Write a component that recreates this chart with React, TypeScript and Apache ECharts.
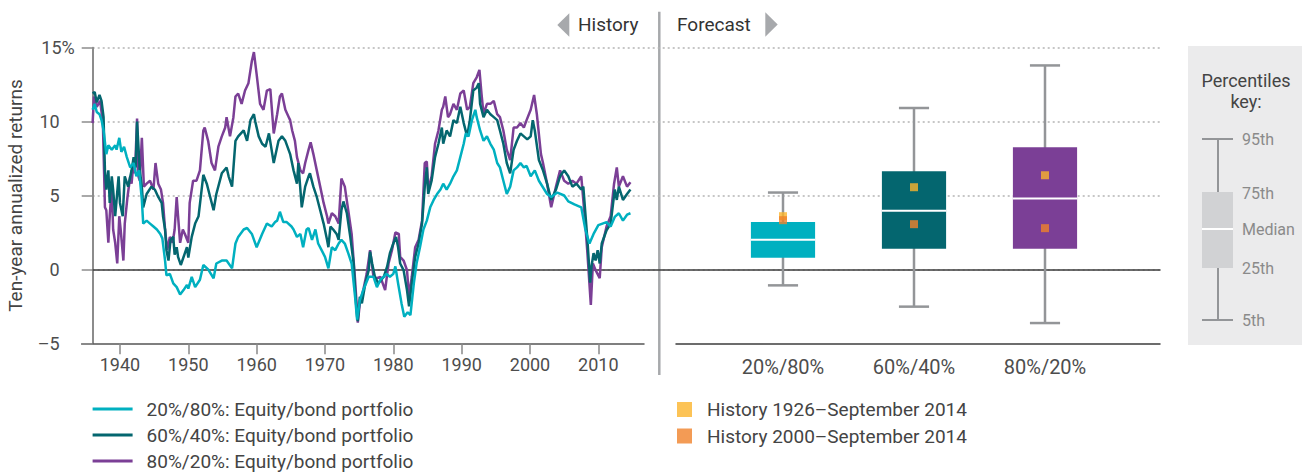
import React, { useEffect, useRef } from 'react';
import * as echarts from 'echarts';

// ---------- DATA ----------
const seriesNames = [
  '20%/80%: Equity/bond portfolio',
  '60%/40%: Equity/bond portfolio',
  '80%/20%: Equity/bond portfolio',
];
const yearTicks = [1940, 1950, 1960, 1970, 1980, 1990, 2000, 2010];

// Ten-year annualized returns [year, %]
const returns20_80: [number, number][] = [
  [1936.0, 10.8], [1936.3, 11.2], [1936.6, 10.65], [1937.0, 10.5], [1937.3, 10.1], [1937.6, 9.4],
  [1938.0, 7.8], [1938.3, 8.4], [1938.8, 8.1], [1939.3, 8.4], [1939.5, 8.1], [1939.9, 8.9],
  [1940.2, 7.95], [1940.6, 8.3], [1941.0, 7.6], [1941.5, 6.9], [1942.0, 7.2], [1942.4, 6.3],
  [1942.8, 6.7], [1943.2, 4.7], [1943.4, 3.1], [1943.9, 3.3], [1944.4, 3.1], [1944.9, 2.9],
  [1945.4, 2.7], [1945.9, 2.4], [1946.2, 2.1], [1946.6, 0.6], [1946.8, -0.4], [1947.3, -0.3],
  [1947.8, -0.95], [1948.3, -1.2], [1948.8, -1.7], [1949.3, -1.4], [1949.8, -1.05], [1950.0, -1.3],
  [1950.5, -0.5], [1951.0, -1.2], [1951.7, -0.7], [1952.2, 0.3], [1952.9, 0.0], [1953.7, -0.6],
  [1954.1, 0.4], [1954.9, 0.6], [1955.6, 0.6], [1956.4, 0.07], [1956.9, 1.75], [1957.3, 2.2],
  [1958.1, 2.7], [1958.6, 2.8], [1959.3, 2.4], [1960.0, 1.5], [1960.8, 2.4], [1961.5, 3.1],
  [1962.2, 2.9], [1962.7, 3.2], [1963.0, 3.3], [1963.4, 3.9], [1963.9, 3.2], [1964.4, 3.2],
  [1965.1, 2.9], [1965.4, 2.7], [1965.9, 2.2], [1966.4, 2.4], [1966.8, 1.5], [1967.3, 2.7],
  [1967.6, 2.8], [1968.1, 2.0], [1968.6, 2.7], [1969.0, 1.75], [1969.5, 1.3], [1970.0, 0.85],
  [1970.5, 0.07], [1971.0, 1.5], [1971.5, 1.3], [1972.0, 1.75], [1972.4, 2.0], [1972.9, 1.75],
  [1973.4, 1.1], [1973.9, 0.4], [1974.4, -1.85], [1974.7, -3.4], [1975.1, -2.1], [1975.6, -1.4],
  [1976.4, -0.5], [1977.1, -0.5], [1977.6, -1.2], [1978.1, -0.7], [1978.6, -0.5], [1979.0, -0.3],
  [1979.5, -0.5], [1980.0, -0.3], [1980.3, 0.2], [1980.7, -0.95], [1981.2, -2.3], [1981.6, -3.2],
  [1982.1, -2.9], [1982.5, -3.1], [1983.0, -0.95], [1983.4, 0.4], [1983.9, 1.5], [1984.4, 2.7],
  [1984.9, 3.3], [1985.4, 4.2], [1985.9, 4.7], [1986.4, 5.1], [1986.9, 5.4], [1987.3, 5.8],
  [1987.8, 5.4], [1988.3, 5.8], [1988.8, 6.3], [1989.3, 6.7], [1989.8, 7.6], [1990.3, 8.5],
  [1990.6, 9.2], [1991.0, 9.0], [1991.5, 10.1], [1992.0, 10.8], [1992.2, 10.3], [1992.7, 9.4],
  [1993.2, 8.7], [1993.7, 9.0], [1994.2, 8.5], [1994.7, 8.1], [1995.2, 7.2], [1995.6, 6.9],
  [1996.1, 6.0], [1996.6, 5.1], [1997.1, 5.6], [1997.6, 6.7], [1998.1, 6.9], [1998.6, 7.2],
  [1999.1, 6.9], [1999.5, 7.0], [2000.1, 6.3], [2000.7, 6.7], [2001.3, 6.0], [2002.5, 5.1],
  [2003.1, 4.9], [2004.0, 5.2], [2005.0, 5.0], [2005.6, 4.6], [2006.5, 4.4], [2007.5, 4.2],
  [2008.1, 2.7], [2008.7, 1.75], [2009.3, 2.4], [2010.0, 3.0], [2011.2, 3.2], [2011.8, 2.9],
  [2012.4, 3.55], [2013.0, 3.8], [2013.6, 3.3], [2014.2, 3.7], [2014.7, 3.8],
];

const returns60_40: [number, number][] = [
  [1936.0, 11.9], [1936.3, 12.0], [1936.6, 11.3], [1937.0, 11.8], [1937.3, 11.4], [1937.6, 10.3],
  [1937.8, 6.7], [1938.0, 5.4], [1938.3, 6.7], [1938.5, 4.5], [1938.8, 6.3], [1939.0, 5.4],
  [1939.3, 3.6], [1939.8, 6.3], [1940.0, 4.5], [1940.4, 3.6], [1940.7, 6.3], [1941.2, 5.6],
  [1941.7, 6.7], [1942.0, 7.6], [1942.3, 6.9], [1942.5, 10.0], [1942.9, 6.7], [1943.2, 5.6],
  [1943.4, 4.2], [1943.9, 5.1], [1944.6, 5.6], [1945.1, 5.4], [1945.6, 4.9], [1946.1, 4.5],
  [1946.3, 3.6], [1946.6, 2.7], [1946.8, 1.3], [1947.1, 0.6], [1947.4, 2.0], [1947.8, 2.2],
  [1948.0, 1.0], [1948.3, 1.5], [1948.5, 0.85], [1948.9, 0.3], [1949.5, 1.1], [1949.8, 1.5],
  [1950.0, 0.8], [1950.5, 2.2], [1951.0, 3.1], [1951.5, 3.6], [1952.2, 6.4], [1952.7, 5.8],
  [1953.2, 4.9], [1953.7, 4.0], [1954.1, 5.1], [1954.9, 6.5], [1955.6, 6.9], [1955.9, 6.3],
  [1956.4, 5.6], [1956.9, 8.7], [1957.3, 9.0], [1958.1, 9.4], [1958.6, 8.7], [1959.1, 10.1],
  [1959.6, 10.5], [1959.8, 10.0], [1960.3, 9.0], [1960.8, 8.5], [1961.3, 8.3], [1961.8, 9.2],
  [1962.5, 7.2], [1963.2, 8.7], [1963.7, 9.0], [1964.2, 8.7], [1964.9, 7.8], [1965.4, 6.7],
  [1965.9, 5.8], [1966.1, 7.2], [1966.6, 4.2], [1967.1, 5.6], [1967.6, 6.3], [1967.8, 6.5],
  [1968.3, 5.6], [1968.8, 4.9], [1969.3, 4.0], [1969.8, 3.1], [1970.3, 2.0], [1970.5, 1.5],
  [1970.8, 2.9], [1971.2, 2.7], [1971.7, 2.4], [1972.0, 2.0], [1972.4, 4.0], [1972.7, 4.6],
  [1973.2, 3.8], [1973.7, 2.2], [1974.2, 0.4], [1974.4, -1.4], [1974.7, -3.2], [1974.8, -3.5],
  [1975.1, -1.85], [1975.4, -2.3], [1975.9, -0.95], [1976.4, -0.05], [1976.6, 1.2], [1976.9, 0.4],
  [1977.3, -0.5], [1977.8, -0.95], [1978.6, -0.5], [1979.1, 0.2], [1979.5, 1.1], [1980.0, 1.75],
  [1980.4, 2.2], [1980.7, 1.5], [1981.0, 0.4], [1981.5, -0.05], [1982.0, -1.4], [1982.3, -2.5],
  [1982.7, -0.95], [1983.2, 0.85], [1983.7, 1.75], [1984.2, 3.1], [1984.6, 5.6], [1984.9, 6.9],
  [1985.1, 5.1], [1985.6, 6.0], [1986.1, 7.6], [1986.6, 8.5], [1987.1, 9.6], [1987.3, 8.5],
  [1987.8, 9.4], [1988.3, 9.0], [1988.8, 10.1], [1989.3, 9.9], [1989.8, 11.0], [1990.3, 9.9],
  [1990.8, 9.0], [1991.2, 10.1], [1991.7, 12.1], [1992.2, 12.3], [1992.5, 12.6], [1992.7, 11.2],
  [1993.2, 10.3], [1993.7, 10.8], [1994.2, 10.5], [1994.7, 10.3], [1995.2, 10.1], [1995.6, 9.4],
  [1996.1, 8.5], [1996.6, 7.2], [1997.1, 6.5], [1997.6, 8.1], [1998.1, 8.7], [1998.6, 9.2],
  [1999.1, 9.0], [1999.6, 8.8], [2000.1, 9.0], [2000.4, 10.1], [2000.7, 9.4], [2001.3, 7.4],
  [2001.9, 6.7], [2002.5, 5.8], [2003.1, 4.7], [2003.8, 5.4], [2004.4, 6.3], [2005.0, 6.7],
  [2005.6, 6.3], [2006.2, 5.6], [2006.8, 5.8], [2007.5, 5.4], [2007.8, 5.6], [2008.1, 3.8],
  [2008.4, 2.0], [2008.8, -0.9], [2009.0, 0.2], [2009.3, 1.1], [2009.6, 0.6], [2009.9, 1.3],
  [2010.2, 0.4], [2010.5, 1.75], [2011.2, 2.65], [2011.8, 3.1], [2012.4, 5.4], [2012.7, 4.7],
  [2013.0, 5.6], [2013.6, 4.7], [2014.2, 5.1], [2014.7, 5.4],
];

const returns80_20: [number, number][] = [
  [1936.0, 9.9], [1936.2, 11.7], [1936.6, 11.0], [1937.1, 11.4], [1937.5, 9.9], [1937.8, 4.2],
  [1938.0, 4.0], [1938.3, 1.8], [1938.5, 3.6], [1938.8, 5.6], [1939.0, 2.7], [1939.3, 1.8],
  [1939.6, 0.4], [1939.9, 3.6], [1940.1, 2.7], [1940.5, 0.6], [1940.7, 3.1], [1941.1, 4.9],
  [1941.5, 6.3], [1941.7, 5.8], [1942.0, 7.4], [1942.2, 6.5], [1942.5, 10.2], [1942.7, 6.3],
  [1942.9, 6.0], [1943.2, 8.9], [1943.5, 5.6], [1943.9, 5.8], [1944.4, 6.0], [1944.9, 5.4],
  [1945.2, 7.2], [1945.6, 5.8], [1946.0, 5.4], [1946.3, 4.5], [1946.6, 2.7], [1946.9, 1.3],
  [1947.3, 2.2], [1947.7, 1.8], [1948.0, 2.7], [1948.3, 4.9], [1948.5, 3.6], [1948.8, 1.8],
  [1949.2, 2.7], [1949.5, 2.4], [1950.0, 1.8], [1950.2, 4.5], [1950.7, 6.0], [1951.2, 6.0],
  [1951.7, 6.7], [1952.2, 9.4], [1952.4, 9.6], [1952.9, 8.7], [1953.4, 7.2], [1953.9, 6.7],
  [1954.4, 8.3], [1954.9, 9.0], [1955.4, 9.6], [1955.6, 10.3], [1956.1, 9.0], [1956.6, 10.3],
  [1956.9, 11.7], [1957.3, 11.9], [1957.8, 11.2], [1958.3, 12.1], [1958.8, 12.6], [1959.3, 14.1],
  [1959.6, 14.7], [1960.0, 13.2], [1960.5, 11.2], [1961.0, 10.8], [1961.5, 12.1], [1962.0, 12.2],
  [1962.5, 9.2], [1963.0, 10.5], [1963.4, 11.7], [1963.7, 11.9], [1964.2, 10.8], [1964.7, 10.3],
  [1964.9, 10.1], [1965.2, 9.4], [1965.6, 8.7], [1965.9, 7.6], [1966.4, 6.7], [1966.8, 6.5],
  [1967.1, 7.2], [1967.6, 8.1], [1967.9, 8.6], [1968.3, 7.8], [1968.8, 6.7], [1969.3, 5.6],
  [1969.8, 4.5], [1970.3, 3.6], [1970.5, 3.1], [1971.0, 3.8], [1971.5, 3.6], [1972.0, 3.1],
  [1972.4, 6.15], [1972.9, 5.6], [1973.4, 4.0], [1973.9, 2.4], [1974.4, -0.7], [1974.8, -3.6],
  [1975.1, -2.3], [1975.6, -1.4], [1976.1, -0.3], [1976.6, 1.3], [1977.1, -0.5], [1977.6, -0.6],
  [1978.1, -0.5], [1978.8, -1.4], [1979.3, 0.4], [1979.8, 1.3], [1980.3, 2.5], [1980.8, 2.4],
  [1981.0, 0.85], [1981.5, 0.6], [1982.0, -0.05], [1982.3, -1.85], [1982.7, -0.5], [1983.2, 1.5],
  [1983.7, 2.0], [1984.2, 3.3], [1984.6, 7.2], [1984.9, 7.3], [1985.1, 5.4], [1985.6, 6.3],
  [1986.1, 8.5], [1986.6, 9.4], [1987.1, 10.8], [1987.3, 11.0], [1987.6, 11.7], [1988.0, 10.3],
  [1988.3, 10.5], [1988.8, 11.2], [1989.3, 10.8], [1989.8, 11.9], [1990.3, 12.1], [1990.8, 10.8],
  [1991.2, 11.0], [1991.7, 12.6], [1992.2, 13.0], [1992.6, 13.5], [1992.9, 11.9], [1993.2, 10.5],
  [1993.7, 11.2], [1994.2, 11.2], [1994.7, 11.4], [1995.2, 10.5], [1995.6, 10.3], [1996.1, 9.4],
  [1996.6, 8.1], [1997.1, 7.4], [1997.6, 9.6], [1998.1, 9.6], [1998.6, 9.9], [1999.1, 9.6],
  [1999.5, 10.1], [2000.1, 10.8], [2000.6, 11.8], [2001.0, 10.5], [2001.6, 7.8], [2001.9, 7.2],
  [2002.5, 5.8], [2003.1, 4.2], [2003.8, 5.6], [2004.4, 6.7], [2005.0, 6.0], [2005.6, 5.8],
  [2006.2, 6.0], [2006.8, 5.8], [2007.5, 6.3], [2008.0, 3.6], [2008.4, 1.1], [2008.9, -2.4],
  [2009.2, 0.4], [2009.6, -0.05], [2010.2, -0.6], [2010.5, 1.5], [2011.2, 2.9], [2011.8, 3.6],
  [2012.3, 5.8], [2012.7, 6.9], [2013.0, 5.6], [2013.6, 6.3], [2014.2, 5.6], [2014.7, 5.9],
];

// Forecast distribution (percentiles)
const boxCategories = ['20%/80%', '60%/40%', '80%/20%'];
const pct5 = [-1.08, -2.52, -3.63];
const pct25 = [0.79, 1.39, 1.39];
const pctMedian = [2.0, 3.96, 4.8];
const pct75 = [3.2, 6.64, 8.26];
const pct95 = [5.2, 10.92, 13.8];
const history1926 = [3.6, 5.56, 6.37];
const history2000 = [3.33, 3.06, 2.79];
const historyNames = ['History 1926\u2013September 2014', 'History 2000\u2013September 2014'];
const keyLabels = ['95th', '75th', 'Median', '25th', '5th'];

// ---------- STYLE ----------
const C_CYAN = '#00b0c0';
const C_TEAL = '#04666f';
const C_PURPLE = '#7b3f96';
const BOX_COLORS = [C_CYAN, C_TEAL, C_PURPLE];
const C_WHISKER = '#939598';
const C_YELLOW = '#fbb42c';
const C_ORANGE = '#f0822a';
const FONT = 'Roboto, "Liberation Sans", Arial, sans-serif';

const GRID_TOP = 47.7;
const GRID_H = 295.6;

function buildOption(): any {
  const fmtY = (v: number) => {
    if (v === 15) return '{p|15%}';
    const s = v < 0 ? '\u2013' + Math.abs(v) : String(v);
    return '{n|' + s + '}';
  };
  const labelRich = {
    p: { fontSize: 18, color: '#4d4d4d', fontFamily: FONT },
    n: { fontSize: 18, color: '#4d4d4d', fontFamily: FONT, padding: [0, 15, 0, 0] },
  };

  return {
    animation: false,
    textStyle: { fontFamily: FONT },
    grid: [
      // 0: history lines
      { left: 81.7, right: 1302 - 644, top: GRID_TOP, height: GRID_H },
      // 1: forecast boxes
      { left: 717.5, right: 1302 - 1110.5, top: GRID_TOP, height: GRID_H },
      // 2: shared gridlines + zero line
      { left: 92.7, right: 1302 - 1160, top: GRID_TOP, height: GRID_H * 15 / 20 },
      // 3: forecast baseline
      { left: 676, right: 1302 - 1160, top: GRID_TOP, height: GRID_H },
    ],
    xAxis: [
      {
        gridIndex: 0, type: 'value', min: 1934.4, max: 2016.68,
        axisLine: { show: true, onZero: false, lineStyle: { color: '#555', width: 1.5 } },
        axisTick: { show: true, length: 11, customValues: yearTicks, lineStyle: { color: '#888', width: 1.5 } },
        axisLabel: { customValues: yearTicks, fontSize: 18, color: '#4d4d4d', margin: 12, formatter: (v: number) => String(v) },
        splitLine: { show: false },
      },
      {
        gridIndex: 1, type: 'category', data: boxCategories,
        axisLine: { show: false }, axisTick: { show: false },
        axisLabel: { fontSize: 20, color: '#4d4d4d', margin: 14 },
        splitLine: { show: false },
      },
      {
        gridIndex: 2, type: 'value', min: 0, max: 1,
        axisLine: { show: true, onZero: false, lineStyle: { color: '#3d3d3d', width: 1.5 } },
        axisTick: { show: false }, axisLabel: { show: false }, splitLine: { show: false },
      },
      {
        gridIndex: 3, type: 'value', min: 0, max: 1,
        axisLine: { show: true, onZero: false, lineStyle: { color: '#3d3d3d', width: 1.5 } },
        axisTick: { show: false }, axisLabel: { show: false }, splitLine: { show: false },
      },
    ],
    yAxis: [
      {
        gridIndex: 0, type: 'value', min: -5, max: 15, interval: 5, offset: -11,
        name: 'Ten-year annualized returns', nameLocation: 'middle', nameRotate: 90, nameGap: 68,
        nameTextStyle: { fontSize: 19, color: '#444' },
        axisLine: { show: true, lineStyle: { color: '#8c8c8c', width: 2 } },
        axisTick: { show: true, length: 11, lineStyle: { color: '#8c8c8c', width: 1.5 } },
        axisLabel: { formatter: fmtY, rich: labelRich, margin: 18 },
        splitLine: { show: false },
      },
      {
        gridIndex: 1, type: 'value', min: -5, max: 15, interval: 5, show: false,
        splitLine: { show: false },
      },
      {
        gridIndex: 2, type: 'value', min: 0, max: 15, interval: 5,
        axisLine: { show: false }, axisTick: { show: false }, axisLabel: { show: false },
        splitLine: { show: true, lineStyle: { color: '#b4b4b4', type: [2, 3], width: 1.5 } },
      },
      {
        gridIndex: 3, type: 'value', min: -5, max: 15, show: false, splitLine: { show: false },
      },
    ],
    legend: [
      {
        data: seriesNames, orient: 'vertical', left: 92.6, top: 399, padding: 0, icon: 'rect',
        itemWidth: 40, itemHeight: 3, itemGap: 6, selectedMode: false,
        textStyle: { fontSize: 19, color: '#444', lineHeight: 20, padding: [0, 0, 0, 9] },
      },
      {
        data: historyNames, orient: 'vertical', left: 677, top: 399.5, padding: 0, icon: 'rect',
        itemWidth: 15, itemHeight: 15, itemGap: 6.5, selectedMode: false,
        textStyle: { fontSize: 19, color: '#444', lineHeight: 20, padding: [0, 0, 0, 10] },
      },
    ],
    series: [
      {
        name: seriesNames[2], type: 'line', xAxisIndex: 0, yAxisIndex: 0, data: returns80_20,
        symbol: 'none', showSymbol: false, color: C_PURPLE,
        lineStyle: { color: C_PURPLE, width: 2.5 }, silent: true,
      },
      {
        name: seriesNames[1], type: 'line', xAxisIndex: 0, yAxisIndex: 0, data: returns60_40,
        symbol: 'none', showSymbol: false, color: C_TEAL,
        lineStyle: { color: C_TEAL, width: 2.5 }, silent: true,
      },
      {
        name: seriesNames[0], type: 'line', xAxisIndex: 0, yAxisIndex: 0, data: returns20_80,
        symbol: 'none', showSymbol: false, color: C_CYAN,
        lineStyle: { color: C_CYAN, width: 2.5 }, silent: true,
      },
      {
        name: 'Forecast', type: 'custom', xAxisIndex: 1, yAxisIndex: 1, silent: true,
        data: boxCategories.map((_, i) => [i, pct5[i], pct25[i], pctMedian[i], pct75[i], pct95[i]]),
        encode: { x: 0, y: [1, 2, 3, 4, 5] },
        renderItem: (params: any, api: any) => {
          const i = api.value(0);
          const lo = api.coord([i, api.value(1)]);
          const q1 = api.coord([i, api.value(2)]);
          const md = api.coord([i, api.value(3)]);
          const q3 = api.coord([i, api.value(4)]);
          const hi = api.coord([i, api.value(5)]);
          const band = api.size([1, 0])[0];
          const bw = band * 0.49;
          const cw = band * 0.23;
          const x = lo[0];
          const ws = { stroke: C_WHISKER, lineWidth: 2.5 };
          return {
            type: 'group',
            children: [
              { type: 'line', shape: { x1: x, y1: hi[1], x2: x, y2: lo[1] }, style: ws },
              { type: 'line', shape: { x1: x - cw / 2, y1: hi[1], x2: x + cw / 2, y2: hi[1] }, style: ws },
              { type: 'line', shape: { x1: x - cw / 2, y1: lo[1], x2: x + cw / 2, y2: lo[1] }, style: ws },
              { type: 'rect', shape: { x: x - bw / 2, y: q3[1], width: bw, height: q1[1] - q3[1] }, style: { fill: BOX_COLORS[i] } },
              { type: 'line', shape: { x1: x - bw / 2, y1: md[1], x2: x + bw / 2, y2: md[1] }, style: { stroke: '#ffffff', lineWidth: 2 } },
            ],
          };
        },
      },
      {
        name: historyNames[0], type: 'scatter', xAxisIndex: 1, yAxisIndex: 1, data: history1926,
        symbol: 'rect', symbolSize: 8, color: C_YELLOW, itemStyle: { color: C_YELLOW }, silent: true, z: 5,
      },
      {
        name: historyNames[1], type: 'scatter', xAxisIndex: 1, yAxisIndex: 1, data: history2000,
        symbol: 'rect', symbolSize: 8, color: C_ORANGE, itemStyle: { color: C_ORANGE }, silent: true, z: 6,
      },
    ],
    graphic: [
      // history / forecast header
      { type: 'polygon', shape: { points: [[569.3, 13.3], [569.3, 36.7], [557.3, 25]] }, style: { fill: '#a7a9ac' } },
      { type: 'text', x: 578, y: 24, style: { text: 'History', fontSize: 19, fontFamily: FONT, fill: '#333', align: 'left', verticalAlign: 'middle' } },
      { type: 'text', x: 677, y: 24, style: { text: 'Forecast', fontSize: 19, fontFamily: FONT, fill: '#333', align: 'left', verticalAlign: 'middle' } },
      { type: 'polygon', shape: { points: [[765.3, 12.3], [765.3, 36.7], [777.7, 24.5]] }, style: { fill: '#a7a9ac' } },
      { type: 'line', shape: { x1: 659.3, y1: 11.7, x2: 659.3, y2: 375 }, style: { stroke: '#a7a9ac', lineWidth: 2.5 } },
      // percentiles key
      { type: 'rect', shape: { x: 1188, y: 46, width: 114, height: 299 }, style: { fill: '#ebebec' }, z: -1 },
      { type: 'text', x: 1246, y: 80, style: { text: 'Percentiles', fontSize: 18, fontFamily: FONT, fill: '#444', align: 'center', verticalAlign: 'middle' } },
      { type: 'text', x: 1246, y: 101, style: { text: 'key:', fontSize: 18, fontFamily: FONT, fill: '#444', align: 'center', verticalAlign: 'middle' } },
      { type: 'line', shape: { x1: 1218, y1: 139, x2: 1218, y2: 320 }, style: { stroke: C_WHISKER, lineWidth: 2 } },
      { type: 'line', shape: { x1: 1202, y1: 139, x2: 1233, y2: 139 }, style: { stroke: C_WHISKER, lineWidth: 2 } },
      { type: 'line', shape: { x1: 1202, y1: 320, x2: 1233, y2: 320 }, style: { stroke: C_WHISKER, lineWidth: 2 } },
      { type: 'rect', shape: { x: 1202, y: 192, width: 31, height: 76 }, style: { fill: '#d1d2d4' } },
      { type: 'line', shape: { x1: 1202, y1: 229, x2: 1233, y2: 229 }, style: { stroke: '#ffffff', lineWidth: 2 } },
      ...keyLabels.map((t, k) => ({
        type: 'text', x: 1242, y: [139, 193, 229, 268, 320][k],
        style: { text: t, fontSize: 16, fontFamily: FONT, fill: '#8a8a8a', align: 'left', verticalAlign: 'middle' },
      })),
    ],
  };
}

export default function App() {
  const ref = useRef<HTMLDivElement>(null);
  useEffect(() => {
    if (!ref.current) return;
    const chart = echarts.init(ref.current, undefined, { renderer: 'svg' });
    chart.setOption(buildOption());
    return () => chart.dispose();
  }, []);
  return (
    <div
      ref={ref}
      style={{ position: 'fixed', left: 0, top: 0, width: 1302, height: 473, background: '#fff' }}
    />
  );
}
